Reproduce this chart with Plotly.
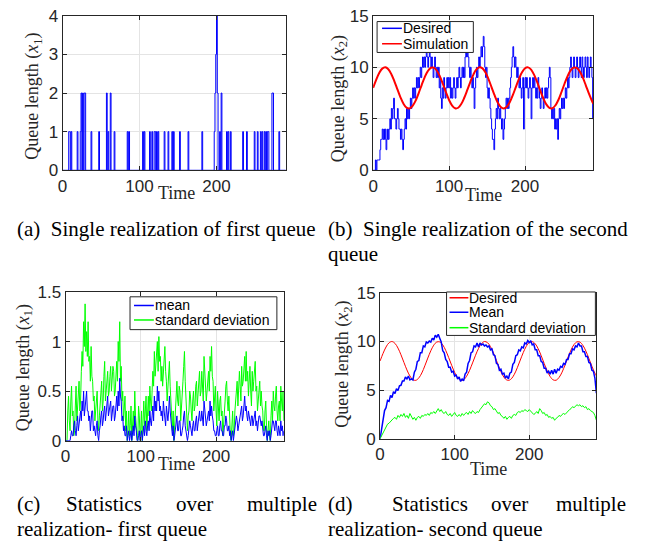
import plotly.graph_objects as go

W, H = 645, 555


def px(x):
    return x / W


def py(y):
    return 1 - y / H


def clamp(v):
    return max(0.0, min(1.0, v))


# ---------------- data ----------------
# (a) single realization of the first queue: spikes (time, height), zero elsewhere
q1_spike_times = [8, 9, 11, 19, 23, 24, 26, 28, 29, 37, 47, 57, 59, 62, 67, 84, 86,
                  104, 106, 113, 116, 119, 120, 122, 124, 132, 137, 142, 144, 152,
                  163, 181, 197, 198, 199, 200, 201, 204, 206, 213, 215, 218, 234,
                  239, 249, 253, 257, 259, 262, 264, 266, 267, 272, 273, 281]
q1_spike_heights = [1, 1, 1, 1, 1, 2, 2, 2, 2, 1, 1, 2, 1, 2, 1, 1, 1,
                    1, 1, 1, 1, 1, 1, 1, 1, 1, 1, 1, 1, 1,
                    1, 1, 1, 2, 3, 4, 2, 1, 2, 1, 1, 1, 1,
                    1, 1, 1, 1, 1, 1, 1, 1, 1, 2, 2, 1]

# (b) single realization of the second queue, t = 0..290
q2_single = [
    0, 0, 0, 1, 0, 1, 1, 1, 1, 2,
    3, 3, 4, 3, 4, 3, 4, 2, 3, 4,
    3, 4, 5, 4, 6, 5, 6, 7, 5, 5,
    4, 5, 6, 5, 4, 4, 3, 4, 3, 2,
    3, 4, 5, 4, 6, 5, 6, 5, 6, 7,
    6, 7, 8, 7, 8, 7, 8, 9, 8, 9,
    8, 9, 10, 9, 10, 11, 10, 11, 10, 11,
    12, 11, 10, 11, 12, 11, 10, 11, 10, 9,
    10, 11, 10, 9, 10, 9, 10, 8, 9, 7,
    6, 8, 7, 9, 8, 7, 8, 9, 8, 9,
    8, 9, 7, 8, 7, 8, 9, 8, 7, 8,
    9, 8, 9, 10, 9, 8, 9, 10, 9, 10,
    9, 11, 12, 11, 12, 11, 10, 9, 10, 9,
    8, 9, 8, 6, 8, 9, 10, 9, 10, 11,
    10, 11, 12, 11, 12, 13, 12, 10, 9, 10,
    8, 7, 8, 7, 6, 5, 4, 3, 3, 2,
    4, 5, 6, 5, 7, 6, 5, 6, 5, 4,
    5, 3, 4, 5, 6, 7, 6, 7, 6, 7,
    8, 9, 10, 11, 12, 11, 10, 11, 10, 9,
    10, 9, 8, 9, 8, 7, 8, 9, 4, 8,
    9, 8, 9, 8, 7, 8, 9, 8, 5, 8,
    9, 8, 9, 8, 7, 8, 7, 9, 8, 7,
    6, 7, 8, 7, 6, 7, 8, 7, 8, 7,
    8, 9, 10, 9, 6, 5, 6, 5, 6, 4,
    5, 4, 5, 3, 5, 6, 5, 6, 7, 6,
    7, 6, 7, 8, 7, 8, 9, 8, 9, 10,
    11, 10, 9, 10, 11, 10, 9, 10, 11, 10,
    9, 10, 11, 10, 9, 11, 10, 9, 10, 11,
    10, 9, 11, 10, 9, 10, 11, 10, 9, 5,
    5]

# desired trajectory of the second queue (read every 4 time units)
desired_t = list(range(0, 289, 4)) + [290]
desired = [
    8.00, 8.78, 9.44, 9.87, 10.00, 9.81, 9.33, 8.64, 7.85, 7.08,
    6.46, 6.08, 6.01, 6.26, 6.77, 7.50, 8.30, 9.05, 9.63, 9.95,
    9.96, 9.66, 9.09, 8.35, 7.55, 6.82, 6.28, 6.02, 6.07, 6.43,
    7.04, 7.80, 8.59, 9.29, 9.79, 10.00, 9.89, 9.48, 8.83, 8.05,
    7.26, 6.59, 6.15, 6.00, 6.17, 6.63, 7.31, 8.10, 8.87, 9.51,
    9.90, 9.99, 9.77, 9.26, 8.55, 7.75, 7.00, 6.40, 6.06, 6.02,
    6.31, 6.85, 7.60, 8.40, 9.13, 9.69, 9.97, 9.94, 9.60, 9.01,
    8.25, 7.46, 6.75, 6.46]

# (c) statistics of the first queue, every time unit (t = 0..290)
q1_std = [
    0, 0, 0, 0.3, 0.45, 0.2, 0.1, 0.4, 0.55, 0.25, 0.3, 0.05, 0.1, 0.35, 0.55, 0.2, 0.35, 0.5, 0.6, 0.3,
    0.4, 0.7, 0.9, 0.75, 1.2, 0.95, 1.38, 0.9, 1.1, 0.85, 1.2, 0.8, 0.85, 0.6, 0.95, 0.65, 0.6, 0.4, 0.45, 0.2,
    0.3, 0.45, 0.5, 0.2, 0.1, 0.25, 0.35, 0.5, 0.6, 0.3, 0.4, 0.65, 0.8, 0.4, 0.55, 0.7, 0.7, 0.45, 0.5, 0.65,
    0.75, 0.5, 0.6, 0.75, 0.7, 0.45, 0.5, 0.7, 0.8, 0.6, 1.0, 0.8, 1.2, 0.6, 0.75, 0.4, 0.5, 0.2, 0.3, 0.45,
    0.1, 0.3, 0, 0.1, 0.3, 0.05, 0.15, 0.35, 0, 0.2, 0.3, 0.1, 0.5, 0.25, 0.1, 0.05, 0, 0.35, 0.25, 0.05,
    0.1, 0.3, 0, 0.2, 0.4, 0.15, 0.25, 0.45, 0.1, 0.3, 0.45, 0.25, 0.55, 0.4, 0.3, 0.5, 0.7, 0.55, 0.9, 0.65,
    0.75, 0.95, 1.0, 0.7, 1.05, 0.8, 0.85, 0.6, 0.75, 0.55, 0.7, 0.85, 0.95, 0.7, 0.6, 0.4, 0.5, 0.7, 0.8, 0.55,
    0.45, 0.25, 0.1, 0.3, 0, 0.15, 0.3, 0.5, 0.6, 0.4, 0.35, 0.55, 0.5, 0.2, 0.3, 0.45, 0.6, 0.75, 0.9, 0.6,
    0.4, 0.2, 0.1, 0.25, 0.3, 0.5, 0.45, 0.3, 0.2, 0.4, 0.5, 0.3, 0.35, 0.55, 0.6, 0.35, 0.45, 0.65, 0.7, 0.45,
    0.5, 0.7, 0.6, 0.4, 0.85, 0.65, 0.6, 0.4, 0.5, 0.65, 0.7, 0.5, 0.85, 0.7, 0.95, 0.65, 0.6, 0.3, 0.4, 0.55,
    0.3, 0.15, 0.5, 0.35, 0.2, 0.4, 0.45, 0.25, 0.3, 0.05, 0.15, 0.3, 0.4, 0.55, 0.6, 0.4, 0.3, 0.45, 0.2, 0.05,
    0, 0.15, 0.3, 0.05, 0.1, 0.3, 0.4, 0.6, 0.6, 0.35, 0.5, 0.7, 0.55, 0.4, 0.75, 0.55, 0.6, 0.8, 0.85, 0.6,
    0.9, 0.6, 0.7, 0.45, 0.6, 0.75, 0.5, 0.35, 0.7, 0.5, 0.6, 0.75, 0.8, 0.5, 0.55, 0.3, 0.4, 0.55, 0.6, 0.35,
    0.5, 0.35, 0.3, 0.1, 0.1, 0.3, 0.4, 0.15, 0, 0.1, 0.2, 0.05, 0, 0.25, 0.4, 0.2, 0.5, 0.35, 0.3, 0.45,
    0.55, 0.3, 0.2, 0.35, 0.4, 0.2, 0.55, 0.4, 0.3, 0.5, 0.2]
q1_mean = [
    0, 0, 0, 0, 0, 0, 0, 0.05, 0.1, 0.05, 0.05, 0.15, 0.2, 0.1, 0.05, 0.15, 0.25, 0.1, 0.15, 0.25,
    0.3, 0.2, 0.4, 0.3, 0.5, 0.25, 0.35, 0.45, 0.5, 0.3, 0.3, 0.2, 0.25, 0.1, 0.2, 0.3, 0.3, 0.1, 0.15, 0.05,
    0.05, 0.15, 0.2, 0.05, 0, 0.1, 0.15, 0.25, 0.3, 0.15, 0.2, 0.3, 0.35, 0.2, 0.3, 0.4, 0.45, 0.25, 0.3, 0.4,
    0.4, 0.2, 0.25, 0.35, 0.35, 0.2, 0.25, 0.4, 0.45, 0.3, 0.5, 0.35, 0.63, 0.45, 0.4, 0.2, 0.25, 0.1, 0.15, 0.05,
    0.05, 0.15, 0, 0.05, 0.1, 0, 0.05, 0.1, 0, 0.1, 0.15, 0.05, 0.25, 0.15, 0.1, 0, 0, 0.05, 0.1, 0,
    0.05, 0.1, 0, 0.05, 0.15, 0.05, 0.2, 0.1, 0.05, 0.15, 0.2, 0.1, 0.3, 0.2, 0.15, 0.25, 0.35, 0.2, 0.45, 0.3,
    0.4, 0.3, 0.55, 0.4, 0.5, 0.3, 0.35, 0.25, 0.3, 0.2, 0.4, 0.3, 0.25, 0.15, 0.35, 0.25, 0.2, 0.3, 0.45, 0.3,
    0.2, 0.1, 0.05, 0.15, 0, 0.05, 0.1, 0.2, 0.25, 0.1, 0.1, 0.2, 0.2, 0.05, 0.05, 0.1, 0.15, 0.25, 0.3, 0.15,
    0.1, 0.05, 0, 0.05, 0.1, 0.2, 0.15, 0.05, 0.05, 0.15, 0.2, 0.1, 0.1, 0.2, 0.25, 0.1, 0.15, 0.25, 0.3, 0.2,
    0.2, 0.3, 0.25, 0.15, 0.4, 0.3, 0.25, 0.15, 0.2, 0.25, 0.3, 0.2, 0.4, 0.25, 0.35, 0.25, 0.2, 0.1, 0.1, 0.05,
    0.05, 0.1, 0.15, 0.05, 0.05, 0.15, 0.2, 0.1, 0.1, 0.05, 0.05, 0.15, 0.15, 0.25, 0.2, 0.1, 0.1, 0.15, 0.05, 0.1,
    0, 0.05, 0.1, 0, 0.05, 0.15, 0.15, 0.25, 0.2, 0.1, 0.15, 0.2, 0.25, 0.3, 0.35, 0.2, 0.25, 0.35, 0.45, 0.3,
    0.35, 0.25, 0.2, 0.3, 0.25, 0.15, 0.15, 0.25, 0.25, 0.15, 0.2, 0.3, 0.3, 0.15, 0.2, 0.1, 0.15, 0.25, 0.25, 0.15,
    0.15, 0.2, 0.1, 0.05, 0.05, 0.15, 0.15, 0.05, 0, 0.1, 0.05, 0.1, 0, 0.05, 0.1, 0.2, 0.2, 0.1, 0.1, 0.2,
    0.2, 0.1, 0.05, 0.15, 0.1, 0.05, 0.2, 0.1, 0.15, 0.05, 0.1]

# (d) statistics of the second queue, every 2 time units (t = 0..290)
stat_t = list(range(0, 291, 2))
q2_mean = [
    0, 1.1, 1.7, 2.9, 3.2, 3.95, 3.85, 4.45, 4.25, 4.85,
    4.65, 5.15, 4.95, 5.45, 5.5, 5.95, 5.95, 6.35, 6.15, 6.45,
    6.05, 6.15, 6.05, 6.85, 7.15, 7.95, 8.05, 8.85, 8.85, 9.55,
    9.45, 9.95, 9.85, 10.05, 9.95, 10.35, 10.15, 10.65, 10.45, 10.75,
    10.35, 9.95, 9.05, 8.85, 8.15, 7.95, 7.35, 7.35, 6.85, 6.95,
    6.45, 6.55, 6.15, 6.35, 5.9, 6.15, 5.95, 6.65, 6.85, 7.75,
    8.05, 8.85, 8.95, 9.55, 9.45, 9.85, 9.45, 9.85, 9.65, 9.75,
    9.55, 9.65, 9.45, 9.55, 9.15, 9.25, 8.65, 8.55, 7.75, 7.65,
    7.05, 7.15, 6.65, 6.75, 6.25, 6.45, 6.15, 6.75, 6.85, 7.65,
    7.85, 8.55, 8.65, 9.15, 9.05, 9.45, 9.35, 9.85, 9.75, 10.1,
    9.9, 10.05, 9.65, 9.75, 9.15, 9.15, 8.55, 8.55, 7.95, 7.85,
    7.25, 7.25, 6.75, 6.95, 6.65, 7.05, 6.65, 7.15, 6.75, 7.15,
    7.05, 7.45, 7.35, 7.75, 7.65, 8.15, 8.15, 8.75, 8.75, 9.25,
    9.15, 9.55, 9.45, 9.85, 9.55, 9.55, 8.95, 8.95, 8.45, 8.45,
    7.85, 7.75, 7.05, 6.95, 6.25, 4.7]
q2_std = [
    0, 0.3, 0.7, 1.0, 1.2, 1.5, 1.6, 1.8, 1.9, 2.1,
    2.2, 2.0, 2.4, 2.2, 2.5, 2.3, 2.6, 2.2, 2.4, 2.1,
    2.6, 2.2, 2.0, 2.2, 1.9, 2.2, 2.3, 2.1, 2.4, 2.3,
    2.5, 2.4, 2.6, 2.4, 2.7, 2.6, 2.8, 2.6, 2.9, 3.1,
    2.8, 3.0, 2.7, 2.6, 2.8, 2.5, 2.4, 2.6, 2.3, 2.5,
    2.7, 2.4, 2.3, 2.5, 2.3, 2.6, 2.4, 2.6, 2.7, 2.5,
    2.8, 2.6, 2.9, 2.7, 2.6, 2.8, 2.7, 3.0, 3.2, 3.4,
    3.6, 3.5, 3.8, 3.7, 3.4, 3.3, 3.0, 3.1, 2.8, 2.6,
    2.7, 2.4, 2.3, 2.1, 2.3, 2.0, 2.2, 2.3, 2.1, 2.4,
    2.5, 2.4, 2.7, 2.8, 2.7, 2.9, 2.8, 3.0, 2.9, 2.8,
    3.0, 2.8, 2.7, 2.5, 2.6, 2.8, 2.6, 3.1, 2.9, 2.6,
    2.7, 2.4, 2.5, 2.2, 2.3, 2.1, 2.2, 1.9, 2.1, 2.2,
    2.4, 2.3, 2.5, 2.6, 2.5, 2.7, 2.9, 3.0, 3.1, 3.3,
    3.2, 3.4, 3.5, 3.4, 3.5, 3.3, 3.4, 3.2, 3.3, 3.0,
    3.1, 2.9, 2.8, 2.7, 2.4, 1.9]

x_ticks = [0, 100, 200]
y_ticks_a = [0, 1, 2, 3, 4]
y_ticks_b = [0, 5, 10, 15]
y_ticks_c = [0, 0.5, 1, 1.5]
y_ticks_d = [0, 5, 10, 15]

# build the full step series for (a) from the spike list
t_single = list(range(0, 291))
q1_single = [0] * len(t_single)
for tt, hh in zip(q1_spike_times, q1_spike_heights):
    q1_single[tt] = hh
t_q2 = list(range(len(q2_single)))
t_c_std = list(range(len(q1_std)))
t_c_mean = list(range(len(q1_mean)))

BLUE = "#0000ff"
RED = "#ff0000"
GREEN = "#00ff00"
AXC = "#262626"

fig = go.Figure()
# (a)
fig.add_trace(go.Scatter(x=t_single, y=q1_single, mode="lines",
                         line=dict(color=BLUE, width=1, shape="hv"),
                         xaxis="x", yaxis="y", showlegend=False))
# (b)
fig.add_trace(go.Scatter(x=t_q2, y=q2_single, mode="lines", name="Desired",
                         line=dict(color=BLUE, width=1, shape="hv"),
                         xaxis="x2", yaxis="y2", showlegend=False))
fig.add_trace(go.Scatter(x=desired_t, y=desired, mode="lines", name="Simulation",
                         line=dict(color=RED, width=2, shape="spline"),
                         xaxis="x2", yaxis="y2", showlegend=False))
# (c)
fig.add_trace(go.Scatter(x=t_c_std, y=q1_std, mode="lines", name="standard deviation",
                         line=dict(color=GREEN, width=1),
                         xaxis="x3", yaxis="y3", showlegend=False))
fig.add_trace(go.Scatter(x=t_c_mean, y=q1_mean, mode="lines", name="mean",
                         line=dict(color=BLUE, width=1),
                         xaxis="x3", yaxis="y3", showlegend=False))
# (d)
fig.add_trace(go.Scatter(x=desired_t, y=desired, mode="lines", name="Desired",
                         line=dict(color=RED, width=1, shape="spline"),
                         xaxis="x4", yaxis="y4", showlegend=False))
fig.add_trace(go.Scatter(x=stat_t, y=q2_mean, mode="lines", name="Mean",
                         line=dict(color=BLUE, width=1.5),
                         xaxis="x4", yaxis="y4", showlegend=False))
fig.add_trace(go.Scatter(x=stat_t, y=q2_std, mode="lines", name="Standard deviation",
                         line=dict(color=GREEN, width=1),
                         xaxis="x4", yaxis="y4", showlegend=False))


def axis(domain, rng, ticks, anchor):
    return dict(domain=domain, range=rng, tickvals=ticks, anchor=anchor,
                showline=True, linecolor=AXC, linewidth=1, mirror="ticks",
                ticks="inside", ticklen=4, tickcolor=AXC, showgrid=True,
                gridcolor="#e4e4e4", gridwidth=1, zeroline=False,
                tickfont=dict(family="Liberation Sans, Arial", size=17, color=AXC),
                fixedrange=True)


boxes = {
    "a": (58, 283, 7, 167),
    "b": (371, 593, 7, 167),
    "c": (61, 281, 293, 447),
    "d": (378, 596, 294, 445),
}


def dom(b):
    x0, x1, y0, y1 = b
    return [clamp(px(x0)), clamp(px(x1))], [clamp(py(y1)), clamp(py(y0))]


xa, ya = dom(boxes["a"])
xb, yb = dom(boxes["b"])
xc, yc = dom(boxes["c"])
xd, yd = dom(boxes["d"])

fig.update_layout(
    width=W, height=H,
    margin=dict(l=0, r=0, t=0, b=0),
    paper_bgcolor="white", plot_bgcolor="white",
    showlegend=False,
    xaxis=axis(xa, [0, 290], x_ticks, "y"),
    yaxis=axis(ya, [0, 4], y_ticks_a, "x"),
    xaxis2=axis(xb, [0, 290], x_ticks, "y2"),
    yaxis2=axis(yb, [0, 15], y_ticks_b, "x2"),
    xaxis3=axis(xc, [0, 290], x_ticks, "y3"),
    yaxis3=axis(yc, [0, 1.5], y_ticks_c, "x3"),
    xaxis4=axis(xd, [0, 290], x_ticks, "y4"),
    yaxis4=axis(yd, [0, 15], y_ticks_d, "x4"),
)

annotations = []
shapes = []
SERIF = "Liberation Serif, Times New Roman, serif"
SANS = "Liberation Sans, Arial, sans-serif"


def text(x, y, s, size=18, family=SERIF, xanchor="center", yanchor="middle", angle=0, color="#262626"):
    annotations.append(dict(x=px(x), y=py(y), xref="paper", yref="paper", text=s,
                            showarrow=False, xanchor=xanchor, yanchor=yanchor,
                            textangle=angle, font=dict(family=family, size=size, color=color)))


# axis titles
text(29, 90, "Queue length (<i>x</i><sub>1</sub>)", angle=-90)
text(337, 93, "Queue length (<i>x</i><sub>2</sub>)", angle=-90)
text(19, 371, "Queue length (<i>x</i><sub>1</sub>)", angle=-90)
text(341, 368, "Queue length (<i>x</i><sub>2</sub>)", angle=-90)
text(173, 191, "Time")
text(482, 193, "Time")
text(173, 471, "Time")
text(487, 476, "Time")


# legends (drawn as box + line samples + labels)
def legend(x0, x1, y0, y1, rows, lx0, lx1, tx):
    shapes.append(dict(type="rect", xref="paper", yref="paper", x0=px(x0), x1=px(x1),
                       y0=py(y1), y1=py(y0), line=dict(color=AXC, width=1),
                       fillcolor="white", layer="above"))
    for yy, col, lab in rows:
        shapes.append(dict(type="line", xref="paper", yref="paper", x0=px(lx0), x1=px(lx1),
                           y0=py(yy), y1=py(yy), line=dict(color=col, width=1.5), layer="above"))
        text(tx, yy, lab, size=14, family=SANS, xanchor="left", color="#000000")


legend(375, 472, 13, 45, [(20, BLUE, "Desired"), (36, RED, "Simulation")], 380, 400, 399)
legend(126, 274, 298, 332, [(307, BLUE, "mean"), (322, GREEN, "standard deviation")], 130, 150, 149)
legend(445, 595, 293, 338, [(299, RED, "Desired"), (314, BLUE, "Mean"), (330, GREEN, "Standard deviation")], 448, 467, 466)

# captions
CAP = 21
text(10, 228, "(a)  Single realization of first queue", size=CAP, xanchor="left", color="black")
text(324, 228, "(b)  Single realization of the second", size=CAP, xanchor="left", color="black")
text(324, 254, "queue", size=CAP, xanchor="left", color="black")
text(10, 513, "(c)", size=CAP, xanchor="left", color="black")
text(59, 513, "Statistics", size=CAP, xanchor="left", color="black")
text(170, 513, "over", size=CAP, xanchor="left", color="black")
text(316, 513, "multiple", size=CAP, xanchor="right", color="black")
text(10, 538, "realization- first queue", size=CAP, xanchor="left", color="black")
text(324, 513, "(d)", size=CAP, xanchor="left", color="black")
text(388, 513, "Statistics", size=CAP, xanchor="left", color="black")
text(488, 513, "over", size=CAP, xanchor="left", color="black")
text(628, 513, "multiple", size=CAP, xanchor="right", color="black")
text(324, 538, "realization- second queue", size=CAP, xanchor="left", color="black")

fig.update_layout(annotations=annotations, shapes=shapes)
# place the 645x555 figure at the page origin (no default body margin)
fig.write_html("out.html",
               config={"displayModeBar": False},
               post_script="document.body.style.margin='0';document.body.style.overflow='hidden';")
